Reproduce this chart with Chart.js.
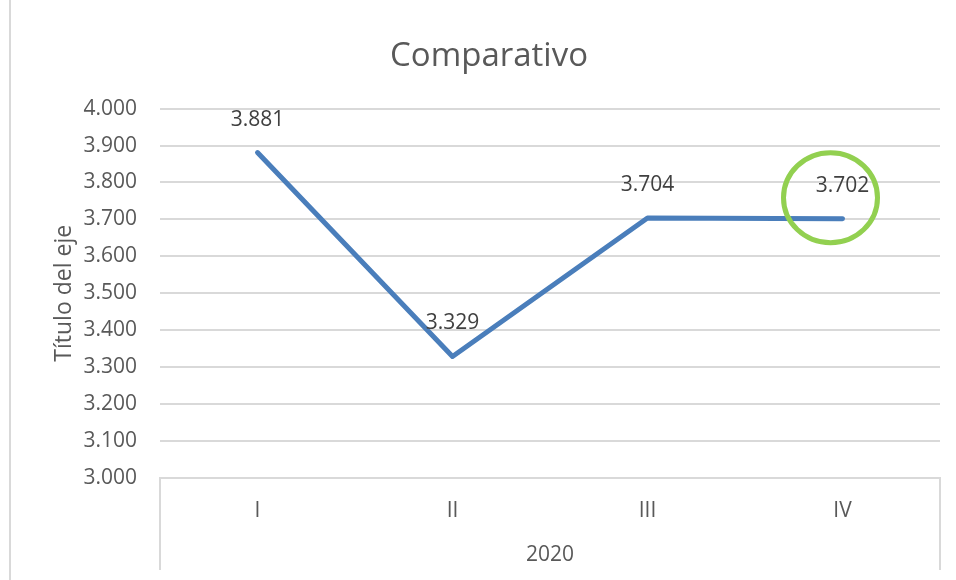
<!DOCTYPE html>
<html>
<head>
<meta charset="utf-8">
<script src="https://cdn.jsdelivr.net/npm/chart.js@4"></script>
<style>
  html, body { margin: 0; padding: 0; background: #fff; }
  #wrap { width: 956px; height: 580px; position: relative; }
</style>
</head>
<body>
<div id="wrap"><canvas id="chart" width="956" height="580"></canvas></div>
<script>
const labels = ['I', 'II', 'III', 'IV']
const valores = [3881, 3329, 3704, 3702]
const grupo = '2020'
const yMin = 3000
const yMax = 4000
const yStep = 100

const fmt = n => Math.round(n).toString().replace(/\B(?=(\d{3})+(?!\d))/g, '.')

const font = 'Open Sans'

// etiquetas de datos, marco y circulo verde
const extras = {
    id: 'extras',
    afterDatasetsDraw(chart) {
        const ctx = chart.ctx
        const area = chart.chartArea
        const pts = chart.getDatasetMeta(0).data
        ctx.save()
        // borde izquierdo
        ctx.strokeStyle = '#d9d9d9'
        ctx.lineWidth = 2
        ctx.beginPath()
        ctx.moveTo(10, 0)
        ctx.lineTo(10, 580)
        ctx.stroke()
        // lineas del eje de categorias
        ctx.beginPath()
        ctx.moveTo(area.left, area.bottom)
        ctx.lineTo(area.left, 570)
        ctx.moveTo(area.right, area.bottom)
        ctx.lineTo(area.right, 570)
        ctx.stroke()
        // etiquetas
        ctx.fillStyle = '#404040'
        ctx.font = '21px "' + font + '"'
        ctx.textAlign = 'center'
        ctx.textBaseline = 'middle'
        pts.forEach((p, i) => {
            ctx.fillText(fmt(valores[i]), p.x, p.y - 33)
        })
        // circulo
        const last = pts[pts.length - 1]
        ctx.strokeStyle = '#92d050'
        ctx.lineWidth = 5
        ctx.beginPath()
        ctx.ellipse(last.x - 12, last.y - 21, 47, 45, 0, 0, Math.PI * 2)
        ctx.stroke()
        ctx.restore()
    }
}

new Chart(document.getElementById('chart'), {
    type: 'line',
    data: {
        labels: labels,
        datasets: [{
            data: valores,
            borderColor: '#4a7ebb',
            borderWidth: 5,
            borderCapStyle: 'round',
            borderJoinStyle: 'round',
            pointRadius: 0,
            tension: 0
        }]
    },
    options: {
        responsive: false,
        animation: false,
        layout: { padding: { left: 38, right: 16, top: 0, bottom: 0 } },
        plugins: {
            legend: { display: false },
            tooltip: { enabled: false },
            title: {
                display: true,
                text: 'Comparativo',
                color: '#595959',
                font: { family: font, size: 33, weight: 'normal' },
                padding: { top: 37, bottom: 32 }
            }
        },
        scales: {
            x: {
                offset: true,
                grid: { display: false },
                border: { display: true, color: '#d9d9d9', width: 2 },
                ticks: {
                    color: '#595959',
                    font: { family: font, size: 21 },
                    padding: 12
                },
                title: {
                    display: true,
                    text: grupo,
                    color: '#595959',
                    font: { family: font, size: 21 },
                    padding: { top: 0, bottom: 12 }
                },
                afterFit(scale) { scale.height = 102 }
            },
            y: {
                min: yMin,
                max: yMax,
                grid: { color: '#d9d9d9', lineWidth: 2, drawTicks: false },
                border: { display: false },
                ticks: {
                    stepSize: yStep,
                    color: '#595959',
                    font: { family: font, size: 21 },
                    padding: 23,
                    callback: v => fmt(v)
                },
                title: {
                    display: true,
                    text: 'Título del eje',
                    color: '#595959',
                    font: { family: font, size: 23 },
                    padding: { top: 13, bottom: 0 }
                },
                afterFit(scale) { scale.width = 122 }
            }
        }
    },
    plugins: [extras]
})
</script>
</body>
</html>
